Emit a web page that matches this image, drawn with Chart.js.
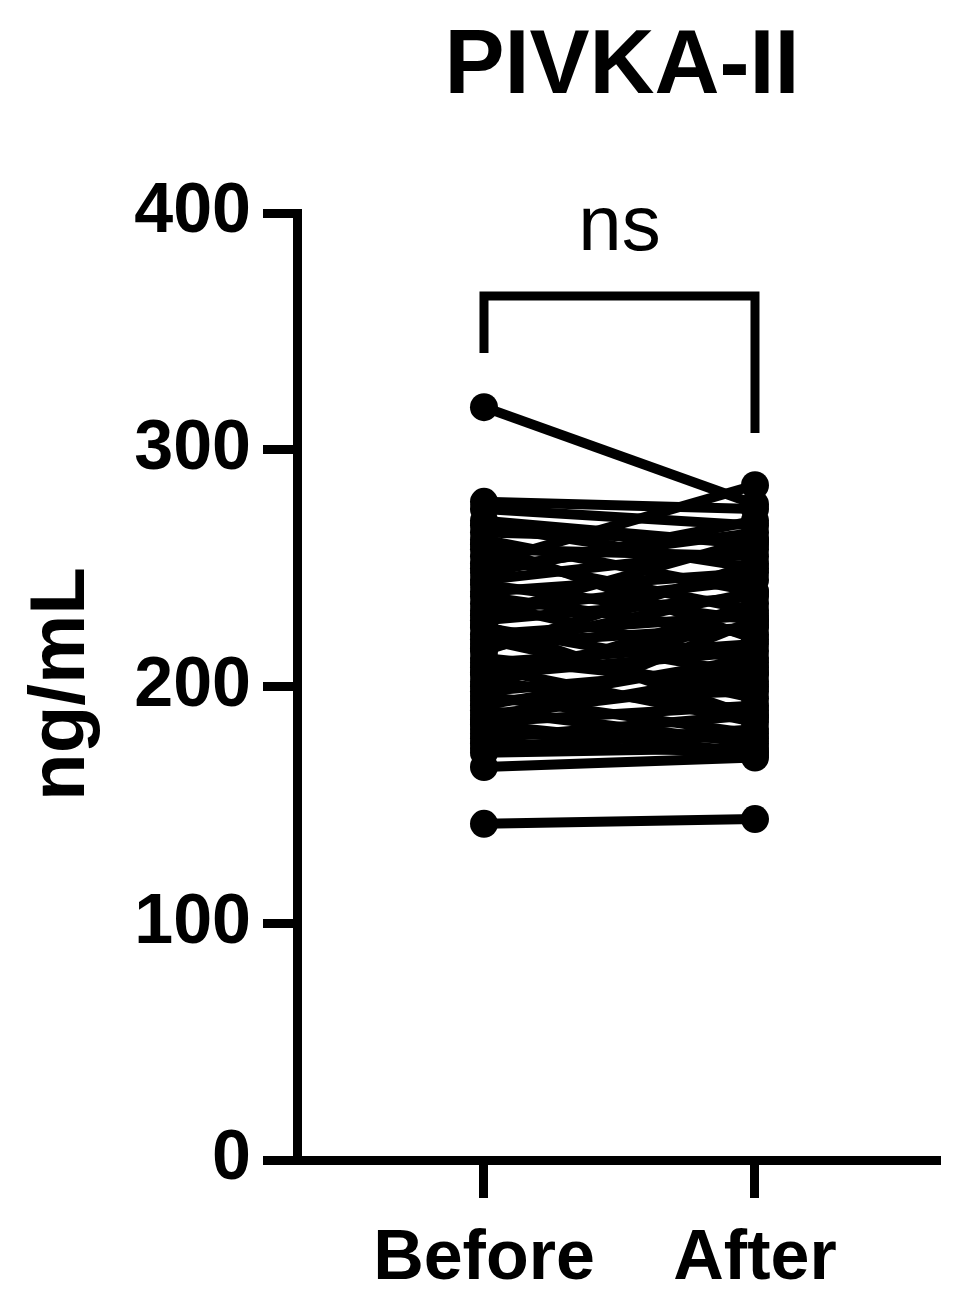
<!DOCTYPE html>
<html>
<head>
<meta charset="utf-8">
<script src="https://cdn.jsdelivr.net/npm/chart.js@4"></script>
<style>
html,body{margin:0;padding:0;background:#fff;}
#c{display:block;}
</style>
</head>
<body>
<canvas id="c" width="977" height="1310"></canvas>
<script>
const chartTitle = 'PIVKA-II';
const yAxisTitle = 'ng/mL';
const xLabels = ['Before', 'After'];
const yTicks = [0, 100, 200, 300, 400];
const significance = 'ns';
const beforeValues = [318, 142, 166, 278, 275, 252, 265, 262, 258, 255, 250, 245, 240, 238, 235, 232, 228, 225, 222, 220, 218, 215, 212, 210, 208, 205, 202, 200, 198, 196, 194, 192, 190, 188, 185, 182, 180, 178, 176, 174, 172, 260, 270, 268, 248, 243, 230, 226, 216, 206, 186, 184];
const afterValues  = [277, 144, 170, 275, 268, 285, 262, 240, 255, 232, 265, 258, 248, 222, 210, 245, 238, 205, 230, 195, 225, 252, 200, 218, 185, 215, 190, 235, 208, 180, 198, 212, 176, 202, 192, 228, 178, 188, 172, 182, 174, 220, 260, 250, 270, 228, 262, 187, 240, 226, 206, 172];

const FONT = '"Liberation Sans", Arial, Helvetica, sans-serif';

const datasets = beforeValues.map((b, i) => ({
  data: [{x: 0, y: b}, {x: 1, y: afterValues[i]}],
  showLine: true,
  borderColor: '#000',
  backgroundColor: '#000',
  borderWidth: 10,
  pointRadius: 14,
  pointHoverRadius: 14,
  pointBorderWidth: 0,
  pointBackgroundColor: '#000'
}));

const annotate = {
  id: 'annotate',
  afterDraw(chart) {
    const ctx = chart.ctx;
    const xs = chart.scales.x;
    ctx.save();
    ctx.fillStyle = '#000';
    ctx.strokeStyle = '#000';
    ctx.font = 'bold 90px ' + FONT;
    ctx.textAlign = 'center';
    ctx.textBaseline = 'alphabetic';
    ctx.fillText(chartTitle, 622, 93);
    const x0 = xs.getPixelForValue(0), x1 = xs.getPixelForValue(1);
    const yTop = 296;
    ctx.lineWidth = 9;
    ctx.lineCap = 'butt';
    ctx.lineJoin = 'miter';
    ctx.beginPath();
    ctx.moveTo(x0, 353);
    ctx.lineTo(x0, yTop);
    ctx.lineTo(x1, yTop);
    ctx.lineTo(x1, 433);
    ctx.stroke();
    ctx.font = '78px ' + FONT;
    ctx.fillText(significance, (x0 + x1) / 2, 250);
    ctx.save();
    ctx.translate(84, 684);
    ctx.rotate(-Math.PI / 2);
    ctx.font = 'bold 78px ' + FONT;
    ctx.textAlign = 'center';
    ctx.textBaseline = 'alphabetic';
    ctx.fillText(yAxisTitle, 0, 0);
    ctx.restore();
    ctx.restore();
  }
};

new Chart(document.getElementById('c'), {
  type: 'scatter',
  data: { datasets },
  options: {
    responsive: false,
    animation: false,
    devicePixelRatio: 1,
    layout: { padding: { top: 213, right: 37, left: 0, bottom: 0 } },
    plugins: { legend: { display: false }, tooltip: { enabled: false }, title: { display: false } },
    scales: {
      x: {
        type: 'linear',
        min: -0.69,
        max: 1.6827,
        afterFit(s) { s.height = 150; },
        afterBuildTicks(s) { s.ticks = [{value: 0}, {value: 1}]; },
        ticks: {
          callback: (v) => xLabels[v] !== undefined ? xLabels[v] : '',
          color: '#000',
          font: { family: FONT, size: 70, weight: 'bold' },
          padding: 20,
          maxRotation: 0,
          autoSkip: false
        },
        grid: { drawOnChartArea: false, drawTicks: true, tickLength: 38, tickWidth: 9, tickColor: '#000' },
        border: { display: true, color: '#000', width: 9 }
      },
      y: {
        min: 0,
        max: 400,
        afterFit(s) { s.width = 297; },
        afterBuildTicks(s) { s.ticks = yTicks.map(v => ({value: v})); },
        ticks: {
          color: '#000',
          font: { family: FONT, size: 70, weight: 'bold' },
          padding: 12
        },
        grid: { drawOnChartArea: false, drawTicks: true, tickLength: 34, tickWidth: 9, tickColor: '#000' },
        border: { display: true, color: '#000', width: 9 }
      }
    }
  },
  plugins: [annotate]
});
</script>
</body>
</html>
